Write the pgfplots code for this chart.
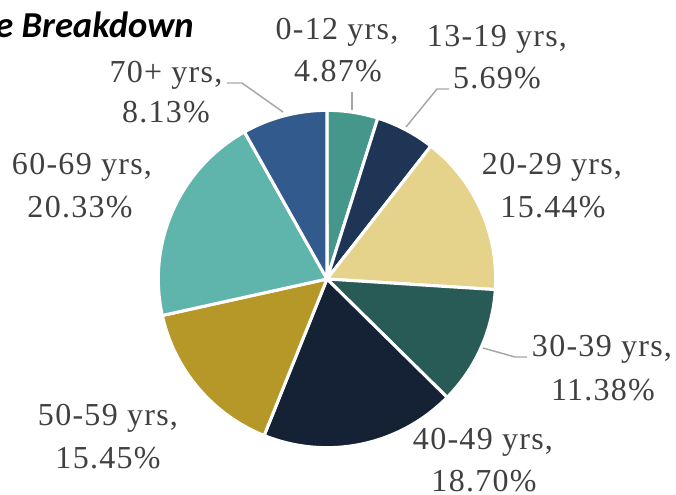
\documentclass[border=0pt]{standalone}
\usepackage{pgfplots}
\pgfplotsset{compat=1.18}
\usepackage{fontspec}
\setmainfont{Liberation Serif}
\newfontfamily\lab{Liberation Serif}[LetterSpace=4]
\newfontfamily\ttl{Carlito}
\definecolor{c1}{HTML}{45978C}
\definecolor{c2}{HTML}{1F3556}
\definecolor{c3}{HTML}{E5D38B}
\definecolor{c4}{HTML}{295B56}
\definecolor{c5}{HTML}{152134}
\definecolor{c6}{HTML}{B59827}
\definecolor{c7}{HTML}{5FB4AC}
\definecolor{c8}{HTML}{335A8C}
\definecolor{txt}{HTML}{404040}
\definecolor{lead}{HTML}{A6A6A6}
% \slice{cumulative start %}{value %}{colour}
\newcommand\slice[3]{%
  \filldraw[fill=#3, draw=white, line width=2.3pt, line join=round]
    (axis cs:327,215) -- ++({90-3.6*#1}:126.5pt)
    arc[start angle={90-3.6*#1}, end angle={90-3.6*(#1+#2)}, radius=126.5pt] -- cycle;}
\newcommand\lbl[3]{\node[anchor=base, text=txt, font=\lab\fontsize{24}{28}\selectfont, inner sep=0pt] at (axis cs:#1,{494-#2}) {#3};}
\begin{document}
\begin{tikzpicture}
\clip (0,0) rectangle (507pt,370.5pt);
\begin{axis}[at={(0,0)}, anchor=south west, scale only axis,
  width=507pt, height=370.5pt, xmin=0, xmax=676, ymin=0, ymax=494,
  hide axis, clip=false]
\slice{0}{4.87}{c1}
\slice{4.87}{5.69}{c2}
\slice{10.56}{15.44}{c3}
\slice{26.00}{11.38}{c4}
\slice{37.38}{18.70}{c5}
\slice{56.08}{15.45}{c6}
\slice{71.53}{20.33}{c7}
\slice{91.86}{8.13}{c8}
% leader lines
\draw[lead, line width=1.1pt] (axis cs:352,{494-92}) -- (axis cs:352,{494-110});
\draw[lead, line width=1.1pt] (axis cs:449,{494-89}) -- (axis cs:437,{494-89}) -- (axis cs:406,{494-127});
\draw[lead, line width=1.1pt] (axis cs:527,{494-357}) -- (axis cs:515,{494-357}) -- (axis cs:483,{494-348});
\draw[lead, line width=1.1pt] (axis cs:227,{494-83}) -- (axis cs:242,{494-83}) -- (axis cs:283,{494-112});
% labels
\lbl{337}{40}{0-12 yrs,}
\lbl{338}{82}{4.87\%}
\lbl{497}{47}{13-19 yrs,}
\lbl{497}{89}{5.69\%}
\lbl{552}{175}{20-29 yrs,}
\lbl{553}{218}{15.44\%}
\lbl{602}{357}{30-39 yrs,}
\lbl{603}{401}{11.38\%}
\lbl{483}{449}{40-49 yrs,}
\lbl{484}{491}{18.70\%}
\lbl{108}{425}{50-59 yrs,}
\lbl{108}{468}{15.45\%}
\lbl{82}{175}{60-69 yrs,}
\lbl{80}{218}{20.33\%}
\lbl{166}{83}{70+ yrs,}
\lbl{166}{123}{8.13\%}
\node[anchor=base east, inner sep=0pt, font=\ttl\bfseries\itshape\fontsize{27.4}{31}\selectfont] at (axis cs:194,{494-38}) {Age Breakdown};
\end{axis}
\end{tikzpicture}
\end{document}
